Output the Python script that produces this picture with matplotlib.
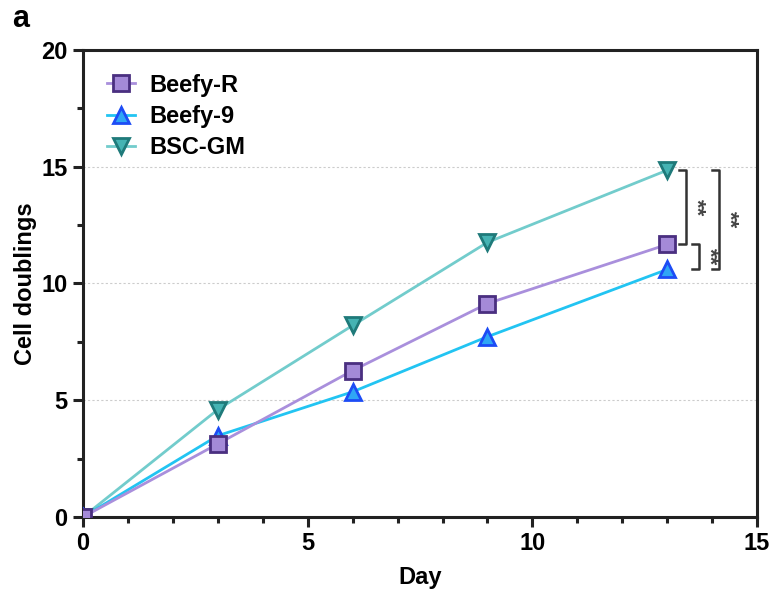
import numpy as np
import matplotlib.pyplot as plt
from matplotlib.ticker import MultipleLocator

plt.rcParams['font.family'] = ['Liberation Sans', 'DejaVu Sans']
plt.rcParams['font.weight'] = 'bold'

days = [0, 3, 6, 9, 13]
beefy_r = [0, 3.13, 6.27, 9.14, 11.67]
beefy_9 = [0, 3.48, 5.36, 7.72, 10.6]
bsc_gm = [0, 4.6, 8.2, 11.76, 14.85]

# bracket x, y top, y bottom
brackets = [(13.42, 14.85, 11.67), (13.71, 11.67, 10.6), (14.16, 14.85, 10.6)]

fig = plt.figure(figsize=(7.73, 5.98), dpi=100)
ax = fig.add_axes([0.1074, 0.1355, 0.872, 0.781])

ax.plot(days, bsc_gm, color='#72cccc', lw=2, marker='v', ms=12,
        mfc='#45b3b3', mec='#1f7a7a', mew=2, label='BSC-GM', zorder=3)
ax.plot(days, beefy_9, color='#22c4f2', lw=2, marker='^', ms=12,
        mfc='#2fa6f5', mec='#1d4cf5', mew=2, label='Beefy-9', zorder=4)
ax.plot(days, beefy_r, color='#a98fdc', lw=2, marker='s', ms=11,
        mfc='#a48ad8', mec='#4a2f80', mew=2, label='Beefy-R', zorder=5)

for bx, yt, yb in brackets:
    ax.plot([bx - 0.16, bx, bx, bx - 0.16], [yt, yt, yb, yb],
            color='#333333', lw=1.8, clip_on=False)
    ax.text(bx + 0.21, (yt + yb) / 2, '**', rotation=270, ha='center',
            va='center', fontsize=16, color='#444444')

ax.set_xlim(0, 15)
ax.set_ylim(0, 20)
ax.xaxis.set_major_locator(MultipleLocator(5))
ax.xaxis.set_minor_locator(MultipleLocator(1))
ax.yaxis.set_major_locator(MultipleLocator(5))
ax.yaxis.set_minor_locator(MultipleLocator(2.5))
ax.grid(axis='y', which='major', ls=(0, (2, 2)), color='#cccccc', lw=0.8)
ax.set_axisbelow(True)

for s in ax.spines.values():
    s.set_linewidth(2.2)
    s.set_color('#222222')
ax.tick_params(which='major', length=7, width=2.2, color='#222222',
               labelsize=17, pad=4)
ax.tick_params(which='minor', length=4, width=2.2, color='#222222')

ax.set_xlabel('Day', fontsize=17, fontweight='bold', labelpad=8)
ax.set_ylabel('Cell doublings', fontsize=17, fontweight='bold', labelpad=3)

h, l = ax.get_legend_handles_labels()
ax.legend(h[::-1], l[::-1], loc='upper left', frameon=False, fontsize=17,
          handlelength=1.2, handletextpad=0.6, borderaxespad=0.6,
          labelspacing=0.35)

fig.text(0.016, 0.955, 'a', fontsize=22, fontweight='bold')

fig.savefig('out.png', dpi=100)
